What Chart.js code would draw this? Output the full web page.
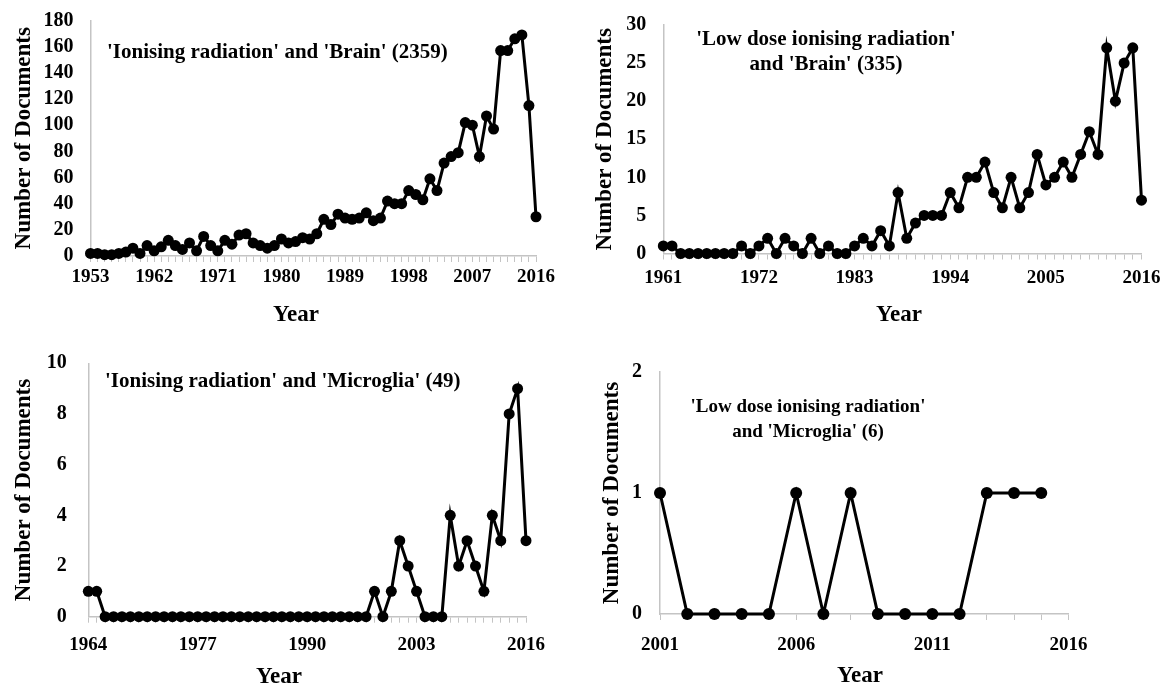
<!DOCTYPE html>
<html>
<head>
<meta charset="utf-8">
<script src="https://cdn.jsdelivr.net/npm/chart.js@4.4.1/dist/chart.umd.min.js"></script>
<style>
html, body { margin: 0; padding: 0; background: #fff; }
#page { position: relative; width: 1164px; height: 685px; overflow: hidden;
        font-family: "Liberation Serif", "Times New Roman", serif; font-weight: bold; color: #000; }
.panel { position: absolute; }
.note { position: absolute; white-space: nowrap; line-height: 1; }
.center { transform: translate(-50%, -50%); text-align: center; }
.left { transform: translateY(-50%); }
</style>
</head>
<body>
<div id="page">
  <canvas id="c1" class="panel" width="582" height="330" style="left:0;top:0"></canvas>
  <canvas id="c2" class="panel" width="582" height="330" style="left:582px;top:0"></canvas>
  <canvas id="c3" class="panel" width="582" height="355" style="left:0;top:330px"></canvas>
  <canvas id="c4" class="panel" width="582" height="355" style="left:582px;top:330px"></canvas>

  <div class="note left" style="left:107px;top:51px;font-size:21px">'Ionising radiation' and 'Brain' (2359)</div>
  <div class="note center" style="left:826px;top:50px;font-size:21px;line-height:24.5px">'Low dose ionising radiation'<br>and 'Brain' (335)</div>
  <div class="note left" style="left:105px;top:380px;font-size:21px">'Ionising radiation' and 'Microglia' (49)</div>
  <div class="note center" style="left:808px;top:418px;font-size:19px;line-height:25px">'Low dose ionising radiation'<br>and 'Microglia' (6)</div>

  <div class="note center" style="left:296px;top:313px;font-size:23px">Year</div>
  <div class="note center" style="left:899px;top:313px;font-size:23px">Year</div>
  <div class="note center" style="left:279px;top:675px;font-size:23px">Year</div>
  <div class="note center" style="left:860px;top:674px;font-size:23px">Year</div>
</div>

<script>
// 'Ionising radiation' and 'Brain'
const irBrainYears = [
  1953, 1954, 1955, 1956, 1957, 1958, 1959, 1960, 1961, 1962,
  1963, 1964, 1965, 1966, 1967, 1968, 1969, 1970, 1971, 1972,
  1973, 1974, 1975, 1976, 1977, 1978, 1979, 1980, 1981, 1982,
  1983, 1984, 1985, 1986, 1987, 1988, 1989, 1990, 1991, 1992,
  1993, 1994, 1995, 1996, 1997, 1998, 1999, 2000, 2001, 2002,
  2003, 2004, 2005, 2006, 2007, 2008, 2009, 2010, 2011, 2012,
  2013, 2014, 2015, 2016
];
const irBrainDocs = [
  2, 2, 1, 1, 2, 3, 6, 2, 8, 4,
  7, 12, 8, 5, 10, 4, 15, 8, 4, 12,
  9, 16, 17, 10, 8, 6, 8, 13, 10, 11,
  14, 13, 17, 28, 24, 32, 29, 28, 29, 33,
  27, 29, 42, 40, 40, 50, 47, 43, 59, 50,
  71, 76, 79, 102, 100, 76, 107, 97, 157, 157,
  166, 169, 115, 30
];
const irBrainTicks = [1953, 1962, 1971, 1980, 1989, 1998, 2007, 2016];

// 'Low dose ionising radiation' and 'Brain'
const ldBrainYears = [
  1961, 1962, 1963, 1964, 1965, 1966, 1967, 1968, 1969, 1970,
  1971, 1972, 1973, 1974, 1975, 1976, 1977, 1978, 1979, 1980,
  1981, 1982, 1983, 1984, 1985, 1986, 1987, 1988, 1989, 1990,
  1991, 1992, 1993, 1994, 1995, 1996, 1997, 1998, 1999, 2000,
  2001, 2002, 2003, 2004, 2005, 2006, 2007, 2008, 2009, 2010,
  2011, 2012, 2013, 2014, 2015, 2016
];
const ldBrainDocs = [
  1, 1, 0, 0, 0, 0, 0, 0, 0, 1,
  0, 1, 2, 0, 2, 1, 0, 2, 0, 1,
  0, 0, 1, 2, 1, 3, 1, 8, 2, 4,
  5, 5, 5, 8, 6, 10, 10, 12, 8, 6,
  10, 6, 8, 13, 9, 10, 12, 10, 13, 16,
  13, 27, 20, 25, 27, 7
];
const ldBrainTicks = [1961, 1972, 1983, 1994, 2005, 2016];

// 'Ionising radiation' and 'Microglia'
const irMicroYears = [
  1964, 1965, 1966, 1967, 1968, 1969, 1970, 1971, 1972, 1973,
  1974, 1975, 1976, 1977, 1978, 1979, 1980, 1981, 1982, 1983,
  1984, 1985, 1986, 1987, 1988, 1989, 1990, 1991, 1992, 1993,
  1994, 1995, 1996, 1997, 1998, 1999, 2000, 2001, 2002, 2003,
  2004, 2005, 2006, 2007, 2008, 2009, 2010, 2011, 2012, 2013,
  2014, 2015, 2016
];
const irMicroDocs = [
  1, 1, 0, 0, 0, 0, 0, 0, 0, 0,
  0, 0, 0, 0, 0, 0, 0, 0, 0, 0,
  0, 0, 0, 0, 0, 0, 0, 0, 0, 0,
  0, 0, 0, 0, 1, 0, 1, 3, 2, 1,
  0, 0, 0, 4, 2, 3, 2, 1, 4, 3,
  8, 9, 3
];
const irMicroTicks = [1964, 1977, 1990, 2003, 2016];

// 'Low dose ionising radiation' and 'Microglia' (no point for 2016)
const ldMicroYears = [2001, 2002, 2003, 2004, 2005, 2006, 2007, 2008,
                      2009, 2010, 2011, 2012, 2013, 2014, 2015, 2016];
const ldMicroDocs = [1, 0, 0, 0, 0, 1, 0, 1, 0, 0, 0, 0, 1, 1, 1, null];
const ldMicroTicks = [2001, 2006, 2011, 2016];

const AXIS = '#c4c4c4';

Chart.defaults.font.family = '"Liberation Serif", "Times New Roman", serif';
Chart.defaults.font.weight = 'bold';
Chart.defaults.color = '#000';

// one small Excel-like line chart per canvas
function makeChart(id, o) {
  return new Chart(document.getElementById(id), {
    type: 'line',
    data: {
      labels: o.years,
      datasets: [{
        data: o.docs,
        borderColor: '#000',
        backgroundColor: '#000',
        borderWidth: 3,
        pointRadius: o.radius,
        pointBorderWidth: 0,
        pointBackgroundColor: '#000',
        tension: 0,
        clip: false
      }]
    },
    options: {
      responsive: false,
      animation: false,
      devicePixelRatio: 1,
      layout: { padding: { left: 0, top: o.top, right: o.right, bottom: 0 } },
      plugins: { legend: { display: false }, tooltip: { enabled: false } },
      scales: {
        x: {
          type: 'category',
          offset: false,
          grid: { display: true, drawOnChartArea: false, drawTicks: true, tickLength: 6, color: AXIS, lineWidth: 1 },
          border: { display: true, color: AXIS, width: 1.5 },
          ticks: {
            autoSkip: false, maxRotation: 0, minRotation: 0,
            padding: o.xPad,
            font: { size: 19, weight: 'bold' },
            color: '#000',
            callback: function(value) {
              const lab = this.getLabelForValue(value);
              return o.ticks.includes(lab) ? String(lab) : '';
            }
          },
          afterFit: function(scale) {
            scale.height = o.xh;
            scale.paddingLeft = 0; scale.paddingRight = 0;
          }
        },
        y: {
          min: 0, max: o.max,
          grid: { display: false, drawTicks: false },
          border: { display: true, color: AXIS, width: 1.5 },
          ticks: { stepSize: o.step, autoSkip: false, padding: o.yPad,
                   font: { size: 20, weight: 'bold' }, color: '#000' },
          title: {
            display: true, text: 'Number of Documents', color: '#000',
            font: { size: 23, weight: 'bold' },
            padding: { top: o.tPad, bottom: 0 }
          },
          afterFit: function(scale) {
            // fixed plot box, like the original Excel panels
            scale.width = o.yw;
            scale.paddingTop = 0; scale.paddingBottom = 0;
          }
        }
      }
    }
  });
}

makeChart('c1', { years: irBrainYears, docs: irBrainDocs, ticks: irBrainTicks,
  max: 180, step: 20, top: 20.5, right: 46, xh: 74, yw: 90.5, xPad: 4, yPad: 17, tPad: 10, radius: 5.5 });
makeChart('c2', { years: ldBrainYears, docs: ldBrainDocs, ticks: ldBrainTicks,
  max: 30, step: 5, top: 25, right: 22.5, xh: 76.5, yw: 81.3, xPad: 7, yPad: 17, tPad: 9, radius: 5.5 });
makeChart('c3', { years: irMicroYears, docs: irMicroDocs, ticks: irMicroTicks,
  max: 10, step: 2, top: 33.3, right: 56, xh: 68.3, yw: 88.3, xPad: 11, yPad: 21.5, tPad: 10, radius: 5.5 });
makeChart('c4', { years: ldMicroYears, docs: ldMicroDocs, ticks: ldMicroTicks,
  max: 2, step: 1, top: 42, right: 95.5, xh: 71, yw: 78, xPad: 13.5, yPad: 18, tPad: 16.5, radius: 6 });
</script>
</body>
</html>
